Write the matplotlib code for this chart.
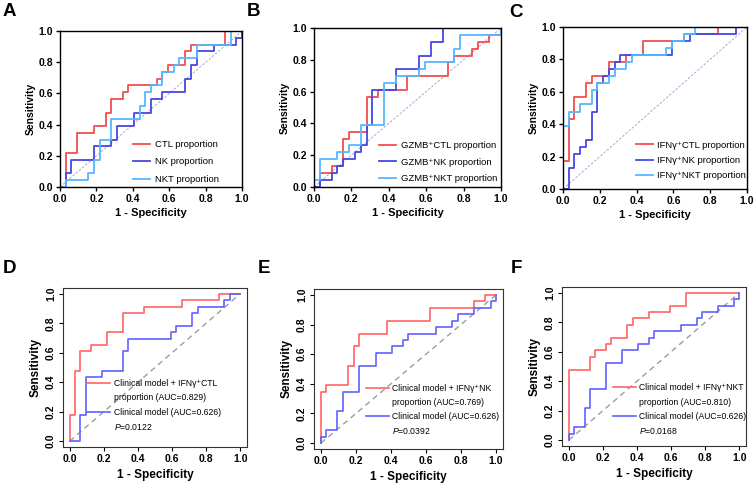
import matplotlib.pyplot as plt
from matplotlib.lines import Line2D

plt.rcParams['font.family'] = ['Liberation Sans', 'DejaVu Sans']
plt.rcParams['mathtext.fontset'] = 'custom'
plt.rcParams['mathtext.it'] = 'Liberation Sans:italic'
plt.rcParams['mathtext.rm'] = 'Liberation Sans'

RED = '#f24e4e'
BLUE = '#4747e0'
LBLUE = '#55b8ff'
RED2 = '#ff6363'
BLUE2 = '#6161ff'

# --- panel A: ROC points (fpr, tpr), step after each point
a_ctl_fpr = [0, 0.031, 0.094, 0.1875, 0.25, 0.281, 0.344, 0.375, 0.531, 0.5625, 0.594, 0.6875, 0.719, 0.906, 1.0]
a_ctl_tpr = [0, 0.217, 0.348, 0.391, 0.478, 0.565, 0.609, 0.652, 0.696, 0.739, 0.783, 0.870, 0.913, 1.0, 1.0]
a_nk_fpr = [0, 0.031, 0.0625, 0.1875, 0.281, 0.3125, 0.406, 0.5, 0.5625, 0.6875, 0.719, 0.75, 0.844, 0.969, 1.0]
a_nk_tpr = [0, 0.087, 0.174, 0.261, 0.304, 0.391, 0.478, 0.565, 0.609, 0.696, 0.783, 0.870, 0.913, 0.957, 1.0]
a_nkt_fpr = [0, 0.031, 0.156, 0.1875, 0.219, 0.281, 0.438, 0.469, 0.5, 0.5625, 0.625, 0.656, 0.75, 0.9375, 1.0]
a_nkt_tpr = [0, 0.043, 0.087, 0.174, 0.304, 0.435, 0.522, 0.609, 0.652, 0.739, 0.783, 0.826, 0.913, 1.0, 1.0]

# --- panel B
b_ctl_fpr = [0, 0.031, 0.094, 0.156, 0.1875, 0.281, 0.344, 0.5, 0.719, 0.75, 0.844, 0.875, 0.9375, 1.0]
b_ctl_tpr = [0, 0.087, 0.130, 0.304, 0.348, 0.565, 0.609, 0.696, 0.783, 0.826, 0.870, 0.913, 0.957, 1.0]
b_nk_fpr = [0, 0.031, 0.094, 0.125, 0.156, 0.219, 0.25, 0.281, 0.3125, 0.4375, 0.5625, 0.625, 0.6875, 1.0]
b_nk_tpr = [0, 0.043, 0.087, 0.130, 0.174, 0.217, 0.261, 0.391, 0.609, 0.739, 0.826, 0.913, 1.0, 1.0]
b_nkt_fpr = [0, 0, 0.031, 0.125, 0.1875, 0.25, 0.375, 0.4375, 0.5625, 0.594, 0.75, 0.781, 1.0]
b_nkt_tpr = [0, 0.043, 0.174, 0.217, 0.261, 0.391, 0.652, 0.696, 0.739, 0.783, 0.870, 0.957, 1.0]

# --- panel C
c_ctl_fpr = [0, 0, 0.031, 0.0625, 0.125, 0.156, 0.25, 0.344, 0.4375, 0.656, 0.844, 1.0]
c_ctl_tpr = [0, 0.174, 0.435, 0.565, 0.652, 0.696, 0.783, 0.826, 0.913, 0.957, 1.0, 1.0]
c_nk_fpr = [0, 0.031, 0.0625, 0.094, 0.125, 0.156, 0.1875, 0.219, 0.25, 0.281, 0.3125, 0.594, 0.6875, 0.9375, 1.0]
c_nk_tpr = [0, 0.130, 0.217, 0.261, 0.304, 0.478, 0.652, 0.696, 0.739, 0.783, 0.826, 0.913, 0.957, 1.0, 1.0]
c_nkt_fpr = [0, 0, 0.031, 0.094, 0.156, 0.1875, 0.25, 0.281, 0.344, 0.375, 0.5625, 0.594, 0.656, 0.719, 1.0]
c_nkt_tpr = [0, 0.391, 0.478, 0.522, 0.609, 0.652, 0.696, 0.739, 0.783, 0.826, 0.870, 0.913, 0.957, 1.0, 1.0]

# --- panel D
d_comb_fpr = [0, 0, 0.031, 0.0625, 0.125, 0.219, 0.3125, 0.4375, 0.656, 0.875, 1.0]
d_comb_tpr = [0, 0.174, 0.478, 0.609, 0.652, 0.739, 0.870, 0.913, 0.957, 1.0, 1.0]
d_clin_fpr = [0, 0.0625, 0.094, 0.1875, 0.3125, 0.344, 0.594, 0.625, 0.719, 0.75, 0.906, 0.9375, 1.0]
d_clin_tpr = [0, 0.174, 0.435, 0.478, 0.609, 0.696, 0.739, 0.783, 0.870, 0.913, 0.957, 1.0, 1.0]

# --- panel E
e_comb_fpr = [0, 0, 0.031, 0.156, 0.1875, 0.219, 0.375, 0.625, 0.875, 0.9375, 1.0]
e_comb_tpr = [0, 0.348, 0.391, 0.522, 0.652, 0.739, 0.826, 0.913, 0.957, 1.0, 1.0]
e_clin_fpr = [0, 0, 0.031, 0.094, 0.125, 0.219, 0.3125, 0.406, 0.469, 0.5, 0.656, 0.75, 0.781, 0.875, 0.969, 1.0]
e_clin_tpr = [0, 0.043, 0.087, 0.217, 0.348, 0.522, 0.609, 0.652, 0.696, 0.739, 0.783, 0.826, 0.870, 0.913, 0.957, 1.0]

# --- panel F
f_comb_fpr = [0, 0, 0.125, 0.156, 0.219, 0.25, 0.344, 0.375, 0.469, 0.594, 0.6875, 1.0]
f_comb_tpr = [0, 0.478, 0.565, 0.609, 0.652, 0.696, 0.783, 0.826, 0.870, 0.913, 1.0, 1.0]
f_clin_fpr = e_clin_fpr
f_clin_tpr = e_clin_tpr

ticks = [0, 0.2, 0.4, 0.6, 0.8, 1.0]
tick_labels = ['0.0', '0.2', '0.4', '0.6', '0.8', '1.0']

fig = plt.figure(figsize=(7.56, 4.9), dpi=100)


def top_panel(rect, curves, letter, letter_xy, leg_xy, leg_sp):
    ax = fig.add_axes(rect)
    ax.plot([0, 1], [0, 1], ls=(0, (3, 2)), lw=0.6, color='#9a9ad0')
    for fpr, tpr, col, lab in curves:
        ax.plot(fpr, tpr, drawstyle='steps-post', color=col, lw=1.3, label=lab)
    ax.set_xlim(0, 1)
    ax.set_ylim(0, 1)
    ax.set_xticks(ticks, tick_labels)
    ax.set_yticks(ticks, tick_labels)
    ax.tick_params(labelsize=7.5, length=3, width=1, pad=2)
    for t in ax.get_xticklabels() + ax.get_yticklabels():
        t.set_fontweight('bold')
    for s in ax.spines.values():
        s.set_linewidth(1.0)
    ax.set_xlabel('1 - Specificity', fontsize=8, fontweight='bold', labelpad=3)
    ax.set_ylabel('Sensitivity', fontsize=7.5, fontweight='bold', labelpad=2)
    ax.legend(loc='lower left', bbox_to_anchor=leg_xy, bbox_transform=ax.transData,
              frameon=False, fontsize=6.8, borderpad=0, borderaxespad=0,
              handlelength=1.8, labelspacing=leg_sp, handletextpad=0.5)
    fig.text(letter_xy[0], letter_xy[1], letter, fontsize=13.5, fontweight='bold', va='center')
    return ax


def bottom_panel(rect, comb, clin, comb_label, pval, letter, letter_xy, leg_xy):
    ax = fig.add_axes(rect)
    ax.plot([0, 1], [0, 1], ls=(0, (4, 3)), lw=1.0, color='#9c9c9c')
    h1, = ax.plot(comb[0], comb[1], drawstyle='steps-post', color=RED2, lw=1.2)
    h2, = ax.plot(clin[0], clin[1], drawstyle='steps-post', color=BLUE2, lw=1.2)
    blank = Line2D([], [], color='none')
    ax.set_xlim(-0.04, 1.04)
    ax.set_ylim(-0.04, 1.04)
    ax.set_xticks(ticks, tick_labels)
    ax.set_yticks(ticks, tick_labels)
    ax.tick_params(labelsize=7.5, length=3, width=0.8, pad=2)
    ax.tick_params(axis='y', labelrotation=90)
    for t in ax.get_xticklabels() + ax.get_yticklabels():
        t.set_fontweight('bold')
    for t in ax.get_yticklabels():
        t.set_va('center')
    for s in ax.spines.values():
        s.set_linewidth(0.8)
        s.set_color('#333333')
    ax.set_xlabel('1 - Specificity', fontsize=8.5, fontweight='bold', labelpad=4)
    ax.set_ylabel('Sensitivity', fontsize=8.5, fontweight='bold', labelpad=3)
    ax.legend([h1, blank, h2, blank],
              [comb_label[0], comb_label[1], 'Clinical model (AUC=0.626)', '$P$=' + pval],
              loc='upper left', bbox_to_anchor=leg_xy, bbox_transform=ax.transData,
              frameon=False, fontsize=6.2, borderpad=0, borderaxespad=0,
              handlelength=2.7, labelspacing=0.6, handletextpad=0.4)
    fig.text(letter_xy[0], letter_xy[1], letter, fontsize=13.5, fontweight='bold', va='center')
    return ax


top_panel([0.0794, 0.6184, 0.2407, 0.318],
          [(a_ctl_fpr, a_ctl_tpr, RED, 'CTL proportion'),
           (a_nk_fpr, a_nk_tpr, BLUE, 'NK proportion'),
           (a_nkt_fpr, a_nkt_tpr, LBLUE, 'NKT proportion')],
          'A', (0.003, 0.976), (0.40, 0.02), 0.9)
top_panel([0.4153, 0.6184, 0.2474, 0.3245],
          [(b_ctl_fpr, b_ctl_tpr, RED, 'GZMB⁺CTL proportion'),
           (b_nk_fpr, b_nk_tpr, BLUE, 'GZMB⁺NK proportion'),
           (b_nkt_fpr, b_nkt_tpr, LBLUE, 'GZMB⁺NKT proportion')],
          'B', (0.326, 0.976), (0.35, 0.025), 0.78)
top_panel([0.7447, 0.6143, 0.2434, 0.3306],
          [(c_ctl_fpr, c_ctl_tpr, RED, 'IFNγ⁺CTL proportion'),
           (c_nk_fpr, c_nk_tpr, BLUE, 'IFNγ⁺NK proportion'),
           (c_nkt_fpr, c_nkt_tpr, LBLUE, 'IFNγ⁺NKT proportion')],
          'C', (0.674, 0.975), (0.395, 0.053), 0.67)

bottom_panel([0.0833, 0.0878, 0.2434, 0.3245], (d_comb_fpr, d_comb_tpr), (d_clin_fpr, d_clin_tpr),
             ('Clinical model + IFNγ⁺CTL', 'proportion (AUC=0.829)'), '0.0122', 'D',
             (0.004, 0.452), (0.10, 0.42))
bottom_panel([0.4153, 0.0837, 0.2500, 0.3265], (e_comb_fpr, e_comb_tpr), (e_clin_fpr, e_clin_tpr),
             ('Clinical model + IFNγ⁺NK', 'proportion (AUC=0.769)'), '0.0392', 'E',
             (0.341, 0.452), (0.255, 0.40))
bottom_panel([0.7434, 0.0898, 0.2434, 0.3245], (f_comb_fpr, f_comb_tpr), (f_clin_fpr, f_clin_tpr),
             ('Clinical model + IFNγ⁺NKT', 'proportion (AUC=0.810)'), '0.0168', 'F',
             (0.675, 0.452), (0.258, 0.385))

fig.savefig('out.png', dpi=100)
